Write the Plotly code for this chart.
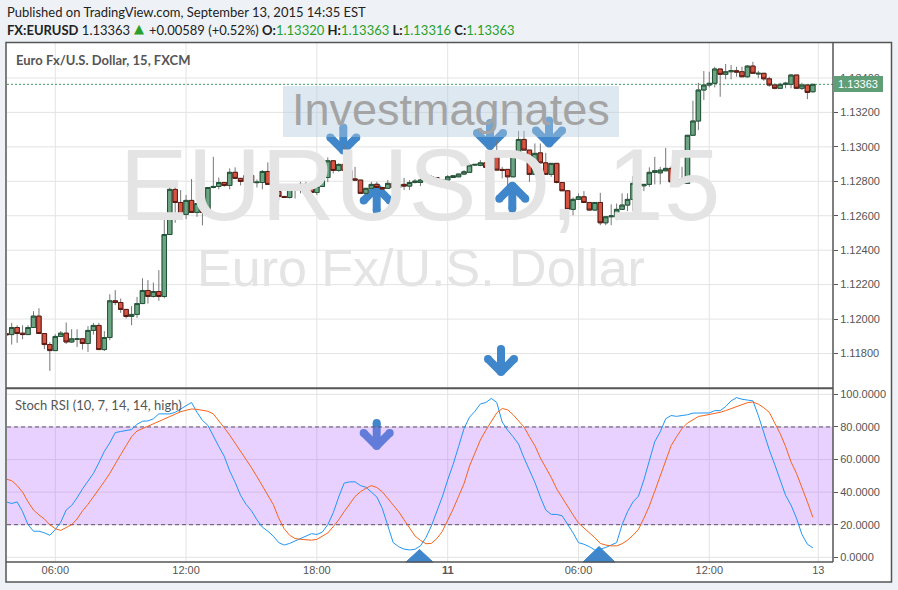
import plotly.graph_objects as go
import pandas as pd

# ---------------- data (EURUSD 15-minute bars, FXCM) ----------------
bar_start = "2015-09-10 03:45"
n_bars = 149

open_ = [1.11915, 1.11910, 1.11951, 1.11918, 1.11910, 1.11951, 1.12017, 1.11916, 1.11852,
         1.11817, 1.11899, 1.11918, 1.11867, 1.11883, 1.11885, 1.11858, 1.11934, 1.11963, 1.11823,
         1.11893, 1.12106, 1.12096, 1.12056, 1.12015, 1.12027, 1.12090, 1.12166, 1.12131, 1.12160,
         1.12131, 1.12491, 1.12753, 1.12677, 1.12608, 1.12689, 1.12619, 1.12671, 1.12619, 1.12764,
         1.12770, 1.12793, 1.12776, 1.12852, 1.12817, 1.12799, 1.12834, 1.12792, 1.12793, 1.12857,
         1.12782, 1.12741, 1.12712, 1.12706, 1.12759, 1.12747, 1.12782, 1.12764, 1.12735, 1.12770,
         1.12822, 1.12919, 1.12863, 1.12898, 1.12863, 1.12814, 1.12807, 1.12730, 1.12759, 1.12782,
         1.12764, 1.12759, 1.12788, 1.12764, 1.12782, 1.12772, 1.12793, 1.12793, 1.12807, 1.12822,
         1.12822, 1.12801, 1.12807, 1.12822, 1.12826, 1.12842, 1.12852, 1.12894, 1.12892, 1.12907,
         1.12881, 1.12971, 1.12869, 1.12869, 1.12826, 1.12962, 1.13043, 1.12981, 1.12840, 1.12965,
         1.12907, 1.12840, 1.12904, 1.12793, 1.12745, 1.12637, 1.12695, 1.12710, 1.12677, 1.12633,
         1.12677, 1.12559, 1.12594, 1.12594, 1.12637, 1.12662, 1.12695, 1.12788, 1.12774, 1.12782,
         1.12852, 1.12849, 1.12861, 1.12875, 1.12797, 1.12811, 1.12788, 1.13067, 1.13150, 1.13330,
         1.13359, 1.13369, 1.13452, 1.13421, 1.13436, 1.13442, 1.13436, 1.13407, 1.13469, 1.13423,
         1.13427, 1.13395, 1.13359, 1.13340, 1.13363, 1.13363, 1.13417, 1.13340, 1.13359, 1.13320]

high = [1.11918, 1.11978, 1.11964, 1.11964, 1.11964, 1.12046, 1.12063, 1.11916, 1.11866,
        1.11912, 1.11930, 1.11980, 1.11941, 1.11941, 1.11885, 1.11959, 1.11978, 1.11978, 1.11930,
        1.12144, 1.12168, 1.12119, 1.12056, 1.12075, 1.12129, 1.12237, 1.12226, 1.12212, 1.12284,
        1.12584, 1.12785, 1.12785, 1.12749, 1.12720, 1.12813, 1.12671, 1.12671, 1.12764, 1.12942,
        1.12822, 1.12793, 1.12875, 1.12881, 1.12817, 1.12846, 1.12846, 1.12811, 1.12865, 1.12910,
        1.12830, 1.12741, 1.12712, 1.12784, 1.12782, 1.12797, 1.12797, 1.12764, 1.12770, 1.12888,
        1.12939, 1.12919, 1.12904, 1.13007, 1.12863, 1.12884, 1.12807, 1.12759, 1.12797, 1.12797,
        1.12768, 1.12807, 1.12788, 1.12782, 1.12820, 1.12807, 1.12813, 1.12817, 1.12826, 1.12836,
        1.12822, 1.12807, 1.12836, 1.12832, 1.12842, 1.12865, 1.12904, 1.12900, 1.12923, 1.12907,
        1.13029, 1.13039, 1.12884, 1.12869, 1.12971, 1.13093, 1.13093, 1.12981, 1.13020, 1.13020,
        1.12965, 1.12904, 1.12904, 1.12793, 1.12745, 1.12706, 1.12730, 1.12743, 1.12677, 1.12677,
        1.12733, 1.12594, 1.12666, 1.12671, 1.12730, 1.12730, 1.12830, 1.12797, 1.12782, 1.12881,
        1.12942, 1.12884, 1.12994, 1.12888, 1.12884, 1.12884, 1.13067, 1.13268, 1.13372, 1.13440,
        1.13436, 1.13465, 1.13452, 1.13481, 1.13475, 1.13465, 1.13465, 1.13475, 1.13494, 1.13442,
        1.13427, 1.13407, 1.13369, 1.13372, 1.13378, 1.13423, 1.13417, 1.13372, 1.13359, 1.13363]

low = [1.11906, 1.11852, 1.11862, 1.11883, 1.11910, 1.11951, 1.11916, 1.11825, 1.11699,
       1.11817, 1.11899, 1.11856, 1.11862, 1.11838, 1.11823, 1.11809, 1.11910, 1.11823, 1.11815,
       1.11877, 1.12081, 1.12036, 1.12003, 1.11964, 1.12007, 1.12090, 1.12090, 1.12125, 1.12106,
       1.12121, 1.12491, 1.12559, 1.12608, 1.12580, 1.12619, 1.12594, 1.12544, 1.12619, 1.12759,
       1.12753, 1.12768, 1.12753, 1.12817, 1.12776, 1.12799, 1.12793, 1.12764, 1.12753, 1.12782,
       1.12741, 1.12689, 1.12704, 1.12700, 1.12700, 1.12730, 1.12764, 1.12735, 1.12720, 1.12770,
       1.12795, 1.12846, 1.12855, 1.12853, 1.12814, 1.12807, 1.12730, 1.12720, 1.12759, 1.12764,
       1.12755, 1.12759, 1.12764, 1.12764, 1.12749, 1.12749, 1.12788, 1.12772, 1.12807, 1.12807,
       1.12801, 1.12801, 1.12801, 1.12822, 1.12826, 1.12836, 1.12849, 1.12892, 1.12888, 1.12881,
       1.12881, 1.12865, 1.12817, 1.12749, 1.12826, 1.12962, 1.12981, 1.12797, 1.12840, 1.12907,
       1.12840, 1.12826, 1.12788, 1.12745, 1.12637, 1.12603, 1.12695, 1.12677, 1.12633, 1.12633,
       1.12545, 1.12545, 1.12545, 1.12574, 1.12637, 1.12627, 1.12627, 1.12733, 1.12743, 1.12768,
       1.12782, 1.12782, 1.12861, 1.12797, 1.12788, 1.12788, 1.12788, 1.13067, 1.13097, 1.13272,
       1.13345, 1.13345, 1.13291, 1.13392, 1.13392, 1.13407, 1.13407, 1.13401, 1.13427, 1.13398,
       1.13384, 1.13349, 1.13334, 1.13340, 1.13340, 1.13340, 1.13340, 1.13330, 1.13277, 1.13316]

close = [1.11909, 1.11951, 1.11916, 1.11910, 1.11951, 1.12017, 1.11916, 1.11852, 1.11817,
         1.11899, 1.11918, 1.11867, 1.11885, 1.11885, 1.11858, 1.11934, 1.11963, 1.11823, 1.11893,
         1.12106, 1.12096, 1.12056, 1.12015, 1.12027, 1.12090, 1.12166, 1.12131, 1.12160, 1.12131,
         1.12491, 1.12753, 1.12677, 1.12608, 1.12689, 1.12619, 1.12671, 1.12619, 1.12764, 1.12770,
         1.12793, 1.12776, 1.12852, 1.12817, 1.12799, 1.12834, 1.12793, 1.12795, 1.12857, 1.12782,
         1.12741, 1.12712, 1.12706, 1.12759, 1.12747, 1.12782, 1.12764, 1.12735, 1.12770, 1.12822,
         1.12919, 1.12863, 1.12898, 1.12863, 1.12814, 1.12807, 1.12730, 1.12759, 1.12782, 1.12764,
         1.12755, 1.12788, 1.12764, 1.12782, 1.12772, 1.12793, 1.12801, 1.12807, 1.12826, 1.12826,
         1.12801, 1.12807, 1.12826, 1.12832, 1.12842, 1.12855, 1.12894, 1.12898, 1.12907, 1.12881,
         1.12971, 1.12865, 1.12863, 1.12826, 1.12962, 1.13043, 1.12981, 1.12840, 1.12962, 1.12907,
         1.12840, 1.12904, 1.12793, 1.12745, 1.12637, 1.12695, 1.12710, 1.12677, 1.12633, 1.12677,
         1.12559, 1.12594, 1.12599, 1.12637, 1.12662, 1.12695, 1.12788, 1.12774, 1.12782, 1.12852,
         1.12861, 1.12865, 1.12875, 1.12797, 1.12811, 1.12788, 1.13067, 1.13150, 1.13330, 1.13359,
         1.13369, 1.13452, 1.13421, 1.13436, 1.13442, 1.13434, 1.13407, 1.13469, 1.13427, 1.13427,
         1.13395, 1.13359, 1.13340, 1.13363, 1.13369, 1.13417, 1.13340, 1.13359, 1.13316, 1.13363]

# Stoch RSI (10, 7, 14, 14, high): %K (blue) and %D (orange)
stoch_k = [34, 33, 34, 28, 20, 16, 16, 15, 13.5,
           17, 21.5, 29, 31.8, 36.5, 42, 46.5, 51.5, 58, 65,
           70.2, 76.5, 77.2, 78, 78.4, 81.6, 83.5, 83.7, 85, 88,
           88, 88, 89, 91, 93.3, 95, 89, 84, 81, 74,
           68, 62, 53, 46, 38, 32.5, 28.5, 23, 18.5, 16,
           13, 9, 7.5, 8.5, 10, 11.5, 13.5, 14.5, 14, 15.5,
           20, 27.3, 37, 45.5, 46.3, 46.3, 44, 43, 40, 37,
           30, 20, 9, 6.5, 5, 4.5, 4.9, 7, 12, 19.2,
           28, 37, 47.5, 57, 68, 79, 86, 89.6, 94.1, 95,
           97.5, 95, 83, 78, 74, 69.5, 61, 54, 46, 37,
           29, 26.3, 26.3, 25.5, 20.5, 15, 9, 8, 6.5, 4.5,
           5, 6, 7.5, 9, 20, 28, 34, 37.5, 47.5, 60,
           71, 77, 85, 87, 86.5, 87, 87.5, 88.5, 88.6, 88.6,
           88.6, 90, 90, 92.5, 96, 98, 97, 96.5, 96, 87,
           76.3, 66, 57, 48, 38, 32, 24, 14, 8, 5.8]

stoch_d = [48, 47, 44, 40, 34, 29, 26, 23.5, 20,
           17.5, 16.5, 18, 20, 23.5, 28.5, 32.5, 37, 41.5, 46.5,
           51.5, 57.5, 63, 68.5, 74, 77.5, 79, 80.5, 82, 83.5,
           85, 86.5, 88, 89.3, 90.2, 91, 90.8, 90.3, 89.6, 88,
           84, 79.5, 75, 70, 65.5, 60, 55, 49.5, 44, 38,
           32.4, 24, 17.5, 13.5, 11.5, 11, 10.6, 10.5, 11, 13,
           14.9, 18.8, 23, 28, 32.8, 37.3, 40.2, 42.4, 44, 42.8,
           40.2, 36, 32, 28, 23, 17.8, 13.1, 10.4, 8.3, 8.5,
           11.4, 15.8, 22.5, 29.6, 37.4, 45.2, 56, 64, 72, 78,
           83.5, 88.6, 91.3, 90.5, 87.5, 83.5, 80, 74, 68.5, 61,
           55, 49, 42, 36.5, 31.5, 26, 21, 18, 15.3, 12,
           8.5, 7.5, 7, 7, 8.3, 10.5, 13.5, 17.1, 24, 31.5,
           40.6, 50, 59, 68.5, 74, 79, 82.4, 84.5, 86.4, 87,
           87.6, 88.2, 89, 90, 91.2, 92.7, 93.8, 94.9, 95.3, 94,
           91.8, 89, 82.5, 76, 68, 58.5, 51.5, 43, 34, 24.5]

price_ticks = [1.118, 1.120, 1.122, 1.124, 1.126, 1.128, 1.130, 1.132, 1.134]
rsi_ticks = [0, 20, 40, 60, 80, 100]
rsi_band = [20, 80]
time_ticks = ["2015-09-10 06:00", "2015-09-10 12:00", "2015-09-10 18:00",
              "2015-09-11 00:00", "2015-09-11 06:00", "2015-09-11 12:00",
              "2015-09-11 17:00"]
time_labels = ["06:00", "12:00", "18:00", "<b>11</b>", "06:00", "12:00", "13"]

# ---------------- layout geometry ----------------
W, H = 898, 590
ML, MR, MT, MB = 7, 65, 43, 28
PX0, PX1 = ML, W - MR
PY0, PY1 = MT, H - MB
SEP_Y = 388.3

def xp(px):
    return (px - PX0) / (PX1 - PX0)

def yp(py):
    return (PY1 - py) / (PY1 - PY0)

times = pd.date_range(bar_start, periods=n_bars, freq="15min")
step = pd.Timedelta(minutes=15)
x_range = [times[0] + 0.14 * step, times[-1] + 3.7 * step]
price_range = [1.11598, 1.13603]
rsi_range = [-2.9, 103.1]
price_dom = [yp(SEP_Y), 1.0]
rsi_dom = [0.0, yp(SEP_Y + 1)]

def px_to_time(px):
    return x_range[0] + (x_range[1] - x_range[0]) * xp(px)

def py_to_price(py):
    f = (py - PY0) / (SEP_Y - PY0)
    return price_range[1] - f * (price_range[1] - price_range[0])

UP_FILL, UP_LINE = "#6ba583", "#225437"
DN_FILL, DN_LINE = "#d75442", "#5b1a13"
WICK = "#777777"
GRID = "#e3e3e3"
FRAME = "#555555"
TXT = "#555555"
ARROW = "#3f86cb"
GREEN_TXT = "#2a9f2a"
WM = "#e4e4e4"

fig = go.Figure()

# watermarks (behind candles)
fig.add_trace(go.Scatter(x=[px_to_time(420)], y=[py_to_price(194)], mode="text",
                         text=["EURUSD, 15"], textposition="middle center",
                         textfont=dict(size=102, color=WM, family="Liberation Sans"),
                         hoverinfo="skip", showlegend=False, cliponaxis=False))
fig.add_trace(go.Scatter(x=[px_to_time(421)], y=[py_to_price(273)], mode="text",
                         text=["Euro Fx/U.S. Dollar"], textposition="middle center",
                         textfont=dict(size=52, color=WM, family="Liberation Sans"),
                         hoverinfo="skip", showlegend=False, cliponaxis=False))

# wicks (grey)
fig.add_trace(go.Candlestick(
    x=times, open=open_, high=high, low=low, close=close,
    increasing=dict(line=dict(color=WICK, width=1), fillcolor=WICK),
    decreasing=dict(line=dict(color=WICK, width=1), fillcolor=WICK),
    whiskerwidth=0, hoverinfo="skip", showlegend=False))

# bodies
body_hi = [max(o, c) for o, c in zip(open_, close)]
body_lo = [min(o, c) for o, c in zip(open_, close)]
fig.add_trace(go.Candlestick(
    x=times, open=open_, high=body_hi, low=body_lo, close=close,
    increasing=dict(line=dict(color=UP_LINE, width=1), fillcolor=UP_FILL),
    decreasing=dict(line=dict(color=DN_LINE, width=1), fillcolor=DN_FILL),
    whiskerwidth=0, hoverinfo="skip", showlegend=False))

# Stoch RSI lines
fig.add_trace(go.Scatter(x=times, y=stoch_k, yaxis="y2", mode="lines",
                         line=dict(color="#2196f3", width=1), hoverinfo="skip",
                         showlegend=False))
fig.add_trace(go.Scatter(x=times, y=stoch_d, yaxis="y2", mode="lines",
                         line=dict(color="#f7631b", width=1), hoverinfo="skip",
                         showlegend=False))

shapes = []
# white chart canvas
shapes.append(dict(type="rect", xref="paper", yref="paper", x0=xp(6), x1=xp(891.5),
                   y0=yp(582), y1=yp(42.5), fillcolor="white", line=dict(width=0),
                   layer="below"))
# grid lines
for v in price_ticks:
    shapes.append(dict(type="line", xref="paper", yref="y", x0=0, x1=1, y0=v, y1=v,
                       line=dict(color=GRID, width=1), layer="below"))
for v in rsi_ticks:
    shapes.append(dict(type="line", xref="paper", yref="y2", x0=0, x1=1, y0=v, y1=v,
                       line=dict(color=GRID, width=1), layer="below"))
for t in time_ticks:
    shapes.append(dict(type="line", xref="x", yref="paper", x0=t, x1=t, y0=0, y1=1,
                       line=dict(color=GRID, width=1), layer="below"))

# last price dotted line
shapes.append(dict(type="line", xref="paper", yref="y", x0=0, x1=1,
                   y0=close[-1], y1=close[-1],
                   line=dict(color="#3f9a63", width=1, dash="2px,2px"), layer="below"))

# hand-drawn arrows (pixel positions of the chevron tip)
arrows = [
    (343.3, 150.5, "down"), (376.7, 187.5, "up"), (490.0, 146.0, "down"),
    (549.0, 143.5, "down"), (512.3, 185.7, "up"), (501.0, 372.0, "down"),
    (376.7, 446.0, "down"),
]
R = 4.0
for cx, vy, d in arrows:
    s = -1 if d == "down" else 1
    pts_lines = [((cx, vy + s * 23), (cx, vy)),
                 ((cx - 13, vy + s * 13), (cx, vy)),
                 ((cx + 13, vy + s * 13), (cx, vy))]
    for (x0, y0), (x1, y1) in pts_lines:
        shapes.append(dict(type="line", xref="paper", yref="paper",
                           x0=xp(x0), y0=yp(y0), x1=xp(x1), y1=yp(y1),
                           line=dict(color=ARROW, width=8), layer="below"))
    for (px_, py_) in [(cx, vy + s * 23), (cx - 13, vy + s * 13), (cx + 13, vy + s * 13), (cx, vy)]:
        shapes.append(dict(type="circle", xref="paper", yref="paper",
                           x0=xp(px_ - R), x1=xp(px_ + R), y0=yp(py_ + R), y1=yp(py_ - R),
                           fillcolor=ARROW, line=dict(width=0), layer="below"))

# clipped arrow heads at the bottom of the oscillator pane
for (bx0, tipx, tipy, bx1) in [(406, 419.5, 549.5, 433), (583, 599, 546.5, 615)]:
    path = "M {} {} L {} {} L {} {} Z".format(xp(bx0), yp(PY1), xp(tipx), yp(tipy), xp(bx1), yp(PY1))
    shapes.append(dict(type="path", xref="paper", yref="paper", path=path,
                       fillcolor=ARROW, line=dict(color=ARROW, width=1), layer="below"))

# oversold / overbought band
shapes.append(dict(type="rect", xref="paper", yref="y2", x0=0, x1=1,
                   y0=rsi_band[0], y1=rsi_band[1],
                   fillcolor="rgba(178,102,255,0.30)", line=dict(width=0), layer="below"))
for v in rsi_band:
    shapes.append(dict(type="line", xref="paper", yref="y2", x0=0, x1=1, y0=v, y1=v,
                       line=dict(color="#5e4f6e", width=1, dash="4px,3px"), layer="below"))

# label box of the text drawing
shapes.append(dict(type="rect", xref="paper", yref="paper", x0=xp(283), x1=xp(619),
                   y0=yp(137), y1=yp(86), fillcolor="rgba(179,204,222,0.45)",
                   line=dict(width=0), layer="above"))

# frame lines
def pline(x0, y0, x1, y1, w=1.5, c=FRAME):
    shapes.append(dict(type="line", xref="paper", yref="paper", x0=xp(x0), y0=yp(y0),
                       x1=xp(x1), y1=yp(y1), line=dict(color=c, width=w), layer="above"))

pline(6, SEP_Y, PX1, SEP_Y, 2)
pline(6, PY1, PX1, PY1, 1.5)
pline(PX1, 42.5, PX1, PY1, 1.5)
shapes.append(dict(type="rect", xref="paper", yref="paper", x0=xp(6), x1=xp(891.5),
                   y0=yp(582), y1=yp(42.5), line=dict(color=FRAME, width=1.5),
                   fillcolor="rgba(0,0,0,0)", layer="above"))

hdr_font = dict(family="Lato", size=13, color="#222222")
annotations = [
    dict(xref="paper", yref="paper", x=xp(5), y=yp(12), xanchor="left", yanchor="middle",
         text="Published on TradingView.com, September 13, 2015 14:35 EST",
         showarrow=False, font=hdr_font),
    dict(xref="paper", yref="paper", x=xp(5), y=yp(30), xanchor="left", yanchor="middle",
         text="<b>FX:EURUSD</b> 1.13363", showarrow=False, font=hdr_font),
    dict(xref="paper", yref="paper", x=xp(139), y=yp(29), xanchor="center", yanchor="middle",
         text="&#9650;", showarrow=False,
         font=dict(family="DejaVu Sans", size=13, color=GREEN_TXT)),
    dict(xref="paper", yref="paper", x=xp(147), y=yp(30), xanchor="left", yanchor="middle",
         text=("+0.00589 (+0.52%%) <b>O:</b><span style='color:%s'>1.13320</span> "
               "<b>H:</b><span style='color:%s'>1.13363</span> "
               "<b>L:</b><span style='color:%s'>1.13316</span> "
               "<b>C:</b><span style='color:%s'>1.13363</span>")
              % (GREEN_TXT, GREEN_TXT, GREEN_TXT, GREEN_TXT),
         showarrow=False, font=hdr_font),
    dict(xref="paper", yref="paper", x=xp(14), y=yp(60), xanchor="left", yanchor="middle",
         text="<b>Euro Fx/U.S. Dollar, 15, FXCM</b>", showarrow=False,
         font=dict(family="Lato", size=13, color=TXT)),
    dict(xref="paper", yref="paper", x=xp(13), y=yp(405), xanchor="left", yanchor="middle",
         text="Stoch RSI (10, 7, 14, 14, high)", showarrow=False,
         font=dict(family="Lato", size=13, color=TXT)),
    dict(xref="paper", yref="paper", x=xp(451), y=yp(110), xanchor="center", yanchor="middle",
         text="Investmagnates", showarrow=False,
         font=dict(family="Liberation Sans", size=45, color="#a4a4a4")),
    dict(xref="paper", yref="y", x=1.0, y=close[-1], xanchor="left", yanchor="middle",
         text="%.5f" % close[-1], showarrow=False, width=46, height=12, borderpad=1,
         bgcolor="#5f9e77", bordercolor="#5f9e77",
         font=dict(family="Liberation Sans", size=11, color="white")),
]

axis_font = dict(family="Liberation Sans", size=11, color=TXT)
fig.update_layout(
    width=W, height=H, autosize=False,
    margin=dict(l=ML, r=MR, t=MT, b=MB, pad=0),
    paper_bgcolor="#eef2f6", plot_bgcolor="rgba(0,0,0,0)",
    showlegend=False, boxgap=0.1, boxgroupgap=0.1,
    xaxis=dict(type="date", range=x_range, domain=[0, 1], anchor="y2",
               rangeslider=dict(visible=False), showgrid=False, zeroline=False,
               showline=False, tickmode="array", tickvals=time_ticks, ticktext=time_labels,
               ticks="", tickfont=axis_font, fixedrange=True),
    yaxis=dict(domain=price_dom, range=price_range, side="right", anchor="x",
               showgrid=False, zeroline=False, showline=False, tickmode="array",
               tickvals=price_ticks, tickformat=".5f", ticks="outside", ticklen=4,
               tickcolor=FRAME, tickfont=axis_font, fixedrange=True),
    yaxis2=dict(domain=rsi_dom, range=rsi_range, side="right", anchor="x",
                showgrid=False, zeroline=False, showline=False, tickmode="array",
                tickvals=rsi_ticks, tickformat=".4f", ticks="outside", ticklen=4,
                tickcolor=FRAME, tickfont=axis_font, fixedrange=True),
    shapes=shapes, annotations=annotations,
)

fig.write_html("out.html", config={"displayModeBar": False},
               post_script="document.body.style.margin='0px';document.body.style.background='#eef2f6';")
